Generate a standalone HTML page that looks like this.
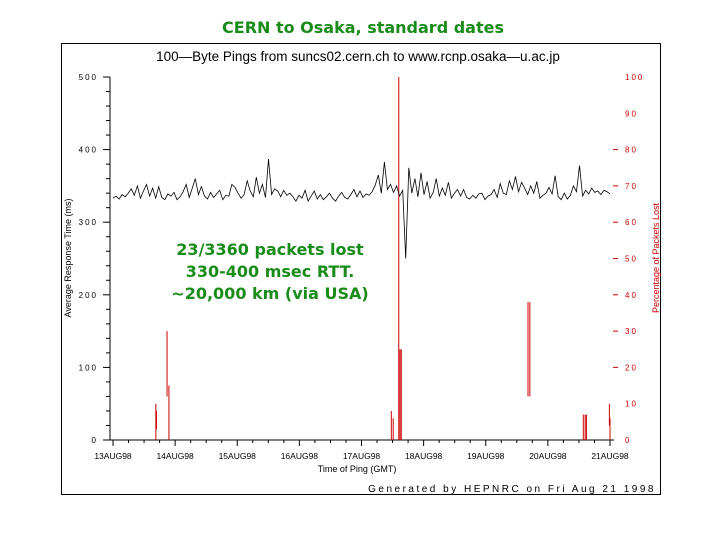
<!DOCTYPE html>
<html><head><meta charset="utf-8"><style>
body{margin:0;background:#fff;width:720px;height:540px;overflow:hidden;font-family:"Liberation Sans",sans-serif}
svg{position:absolute;left:0;top:0}
</style></head><body>
<svg width="720" height="540">
<text x="363" y="33" text-anchor="middle" fill="#1a8c1a" font-family="DejaVu Sans, sans-serif" font-size="16" font-weight="bold">CERN to Osaka, standard dates</text>
<rect x="61.5" y="43.5" width="599" height="451" fill="none" stroke="#000"/>
<text x="358" y="61" text-anchor="middle" font-size="13.5">100—Byte Pings from suncs02.cern.ch to www.rcnp.osaka—u.ac.jp</text>
<g id="axes"></g>
<g id="loss"></g>
<path id="rtt" fill="none" stroke="#000" stroke-width="0.8"/>
<text x="270" y="255" text-anchor="middle" fill="#1a8c1a" font-family="DejaVu Sans, sans-serif" font-size="16" font-weight="bold">23/3360 packets lost</text>
<text x="270" y="277" text-anchor="middle" fill="#1a8c1a" font-family="DejaVu Sans, sans-serif" font-size="16" font-weight="bold">330-400 msec RTT.</text>
<text x="270" y="299" text-anchor="middle" fill="#1a8c1a" font-family="DejaVu Sans, sans-serif" font-size="16" font-weight="bold">~20,000 km (via USA)</text>
<text x="357" y="472" text-anchor="middle" font-size="9">Time of Ping (GMT)</text>
<text transform="translate(71,258) rotate(-90)" text-anchor="middle" font-size="9">Average Response Time (ms)</text>
<text transform="translate(659,258) rotate(-90)" text-anchor="middle" font-size="9" fill="#c00">Percentage of Packets Lost</text>
<text x="656" y="492" text-anchor="end" font-size="10" letter-spacing="2.5">Generated by HEPNRC on Fri Aug 21 1998</text>
</svg>
<script>
const xTicks=["13AUG98","14AUG98","15AUG98","16AUG98","17AUG98","18AUG98","19AUG98","20AUG98","21AUG98"];
const xTickDays=[13,14,15,16,17,18,19,20,21];
const yTicks=[0,100,200,300,400,500];
const y2Ticks=[0,10,20,30,40,50,60,70,80,90,100];
const rttStart=13.0, rttEnd=21.0;
const rttValues=[333,336,332,338,335,340,346,337,350,333,343,352,336,347,333,349,334,331,339,336,341,331,335,342,352,334,347,360,338,349,336,332,341,334,339,344,331,337,336,352,348,340,333,338,357,343,335,362,340,352,334,387,338,346,343,335,344,337,340,335,329,337,333,344,329,336,343,332,338,331,335,340,333,329,336,341,334,332,338,345,335,343,334,339,337,342,351,365,340,383,345,352,341,350,336,344,250,375,340,360,335,368,338,356,333,341,360,336,347,337,355,333,340,345,336,345,334,332,337,333,339,340,331,336,338,345,334,353,340,338,357,345,363,342,355,347,338,350,340,356,333,337,340,348,339,364,335,331,340,332,337,350,342,378,336,344,339,347,341,343,338,344,342,339];
const lossDays=[13.69,13.70,13.87,13.90,17.48,17.51,17.60,17.62,17.64,19.68,19.71,20.57,20.60,20.62,20.99,21.0];
const lossPct=[10,8,30,15,8,6,100,25,25,38,38,7,7,7,10,6];
const lossBase=[0,3,12,0,0,0,0,0,0,12,12,0,0,0,4,0];
const X0=113,X1=610,Y0=440,Y1=77;
const xs=d=>X0+(d-13)*(X1-X0)/8;
const ys=v=>Y0-v*(Y0-Y1)/500;
const ys2=v=>Y0-v*(Y0-Y1)/100;
const NS="http://www.w3.org/2000/svg";
function mk(t,a,p){const e=document.createElementNS(NS,t);for(const k in a)e.setAttribute(k,a[k]);p.appendChild(e);return e;}
const ax=document.getElementById('axes');
let e=mk('path',{d:`M110,77V440H614`,fill:'none',stroke:'#000'},ax);


for(let v=0;v<=500;v+=20){mk('line',{x1:110,x2:v%100?106:103,y1:ys(v),y2:ys(v),stroke:'#000'},ax);}
yTicks.forEach(v=>{const t=mk('text',{x:98,y:ys(v)+3,'text-anchor':'end','font-size':8,'letter-spacing':2},ax);t.textContent=v;

});
y2Ticks.forEach(v=>{const t=mk('text',{x:625,y:ys2(v)+3,'font-size':8,fill:'#c00','letter-spacing':2},ax);t.textContent=v;


if(v>=20&&v<=80)mk('line',{x1:613,x2:618,y1:ys2(v),y2:ys2(v),stroke:'#c00'},ax);});
for(let d=13;d<=21.01;d+=0.25){mk('line',{x1:xs(d),x2:xs(d),y1:440,y2:d%1?443:446,stroke:'#000'},ax);}
xTicks.forEach((s,i)=>{const t=mk('text',{x:xs(xTickDays[i]),y:459,'text-anchor':'middle','font-size':8.5},ax);t.textContent=s;

});
const lg=document.getElementById('loss');
lossDays.forEach((d,i)=>{const l=mk('line',{x1:xs(d),x2:xs(d),y1:ys2(lossBase[i]),y2:ys2(lossPct[i]),stroke:'#c00','stroke-width':1},lg);

});
const n=rttValues.length;let p='';
rttValues.forEach((v,i)=>{const d=rttStart+i*(rttEnd-rttStart)/(n-1);p+=(i?'L':'M')+xs(d).toFixed(1)+','+ys(v).toFixed(1);});
document.getElementById('rtt').setAttribute('d',p);
</script>
</body></html>
